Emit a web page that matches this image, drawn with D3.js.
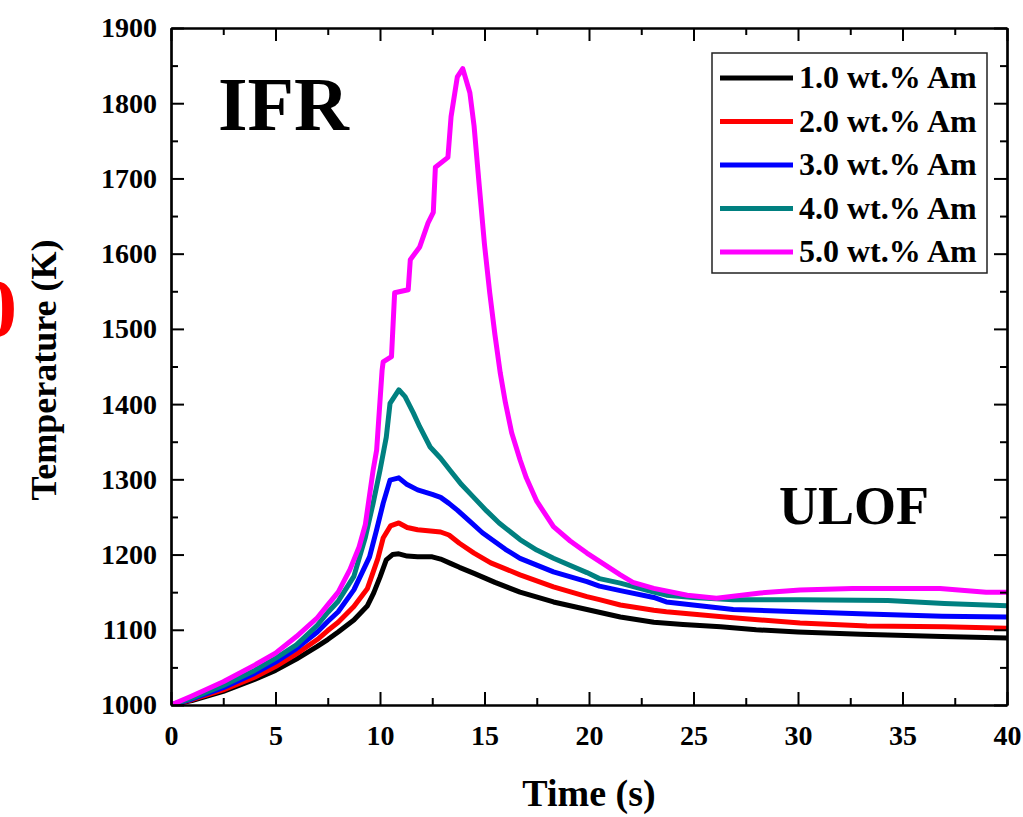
<!DOCTYPE html>
<html>
<head>
<meta charset="utf-8">
<script src="https://cdn.jsdelivr.net/npm/d3@7"></script>
<style>
  html, body { margin: 0; padding: 0; background: #ffffff; overflow: hidden; }
  svg { display: block; }
  text { font-family: "Liberation Serif", "Times New Roman", serif; font-weight: bold; fill: #000; }
</style>
</head>
<body>
<svg id="chart" width="1023" height="817"></svg>
<script>
// ---------------- data ----------------
const seriesNames = ["1.0 wt.% Am", "2.0 wt.% Am", "3.0 wt.% Am", "4.0 wt.% Am", "5.0 wt.% Am"];
const seriesColors = ["#000000", "#ff0000", "#0000ff", "#008080", "#ff00ff"];

const am1 = [[0,1000],[1,1006],[2.5,1018],[4,1034],[5,1046],[6,1061],[7,1078],[7.5,1087],[8,1097],[8.75,1113],[9.4,1132],[9.7,1149],[10,1170],[10.3,1193],[10.6,1200],[10.9,1201],[11.3,1198],[11.8,1197],[12.5,1197],[12.9,1194],[13.4,1188],[13.8,1183],[14.5,1175],[15,1169],[15.5,1163],[16.7,1150],[18.3,1137],[19.9,1127],[21.5,1117],[23.1,1110],[24.5,1107],[26.3,1104],[28,1100],[30,1097],[33,1094],[36.9,1091],[40,1089]];
const am2 = [[0,1000],[1,1007],[2.5,1020],[4,1037],[5,1051],[6,1068],[7,1087],[7.5,1099],[8,1110],[8.75,1131],[9.4,1155],[9.9,1195],[10.15,1222],[10.5,1238],[10.9,1242],[11.3,1236],[11.8,1233],[12.9,1230],[13.3,1226],[13.8,1215],[14.5,1202],[15.3,1189],[16.7,1173],[18.3,1157],[19.9,1144],[20.5,1140],[21.5,1133],[23.1,1126],[23.7,1124],[26.9,1116],[30.1,1109],[33.3,1105],[37,1104],[40,1102]];
const am3 = [[0,1000],[1,1008],[2.5,1023],[4,1042],[5,1057],[6,1075],[7,1097],[7.5,1111],[8,1124],[8.75,1153],[9.5,1197],[9.84,1233],[10.15,1268],[10.48,1299],[10.9,1302],[11.3,1293],[11.8,1286],[12.5,1280],[12.9,1276],[13.3,1268],[13.7,1259],[14.3,1244],[14.9,1229],[16,1207],[16.7,1195],[17.5,1186],[18.3,1177],[19.9,1164],[20.5,1158],[21.5,1152],[23.1,1143],[23.7,1137],[26.9,1127],[30.1,1124],[33.3,1121],[36.9,1118],[40,1117]];
const am4 = [[0,1000],[1,1009],[2.5,1026],[4,1046],[5,1062],[6,1080],[7,1106],[7.5,1123],[8,1138],[8.75,1171],[9.3,1223],[9.67,1268],[10,1312],[10.3,1356],[10.48,1401],[10.9,1419],[11.2,1410],[11.6,1388],[11.9,1370],[12.4,1343],[12.9,1328],[13.35,1312],[13.9,1293],[14.45,1277],[15.1,1258],[15.7,1242],[16.7,1220],[17.5,1206],[18.3,1195],[19.9,1176],[20.5,1168],[21.5,1162],[23.1,1150],[23.7,1146],[25,1143],[26.9,1140],[30.1,1140],[34.3,1139],[37,1135],[40,1132]];
const am5 = [[0,1000],[1,1012],[2.5,1031],[4,1053],[5,1069],[6,1091],[7,1116],[7.5,1133],[8,1150],[8.56,1180],[9,1210],[9.3,1240],[9.67,1312],[9.84,1339],[10.1,1445],[10.15,1456],[10.55,1463],[10.7,1548],[11.35,1552],[11.45,1592],[11.9,1609],[12.3,1641],[12.55,1655],[12.65,1715],[13.25,1728],[13.4,1782],[13.7,1835],[13.96,1846],[14.3,1814],[14.5,1770],[14.75,1690],[15.0,1612],[15.25,1548],[15.5,1492],[15.75,1442],[16.0,1402],[16.3,1362],[16.7,1326],[17.0,1302],[17.5,1271],[18.3,1237],[19.1,1218],[19.9,1202],[21.5,1173],[22.1,1163],[23.1,1155],[24.7,1146],[26.1,1142],[28.2,1149],[30.1,1153],[32.6,1155],[36.8,1155],[39,1150],[40,1150]];
const seriesData = [am1, am2, am3, am4, am5];

const xMajorTicks = [0, 5, 10, 15, 20, 25, 30, 35, 40];
const xMinorTicks = [2.5, 7.5, 12.5, 17.5, 22.5, 27.5, 32.5, 37.5];
const yMajorTicks = [1000, 1100, 1200, 1300, 1400, 1500, 1600, 1700, 1800, 1900];
const yMinorTicks = [1050, 1150, 1250, 1350, 1450, 1550, 1650, 1750, 1850];

// ---------------- layout ----------------
const L = 171, R = 1007, T = 28, B = 705;
const svg = d3.select("#chart");
const x = d3.scaleLinear().domain([0, 40]).range([L, R]);
const y = d3.scaleLinear().domain([1000, 1900]).range([B, T]);

svg.append("clipPath").attr("id", "plotclip")
  .append("rect").attr("x", L).attr("y", T).attr("width", R - L).attr("height", B - T);

const line = d3.line().x(d => x(d[0])).y(d => y(d[1]));
const gLines = svg.append("g").attr("clip-path", "url(#plotclip)");
seriesData.forEach((s, i) => {
  gLines.append("path")
    .attr("d", line(s))
    .attr("fill", "none")
    .attr("stroke", seriesColors[i])
    .attr("stroke-width", 5)
    .attr("stroke-linejoin", "round")
    .attr("stroke-linecap", "round");
});

function styleAxis(g) {
  g.selectAll("path.domain").attr("stroke", "#000").attr("stroke-width", 2.2);
  g.selectAll(".tick line").attr("stroke", "#000").attr("stroke-width", 2);
  g.selectAll(".tick text")
    .style("font-family", '"Liberation Serif", "Times New Roman", serif')
    .style("font-weight", "bold")
    .style("font-size", "28px")
    .attr("fill", "#000");
}
const MAJ = 13, MIN = 7;

svg.append("g").attr("transform", `translate(0,${B})`)
  .call(d3.axisBottom(x).tickValues(xMajorTicks).tickSize(-MAJ).tickSizeOuter(0).tickPadding(20).tickFormat(d3.format("d")))
  .call(styleAxis);
svg.append("g").attr("transform", `translate(0,${B})`)
  .call(d3.axisBottom(x).tickValues(xMinorTicks).tickSize(-MIN).tickSizeOuter(0).tickFormat(""))
  .call(styleAxis);
svg.append("g").attr("transform", `translate(0,${T})`)
  .call(d3.axisTop(x).tickValues(xMajorTicks).tickSize(-MAJ).tickSizeOuter(0).tickFormat(""))
  .call(styleAxis);
svg.append("g").attr("transform", `translate(0,${T})`)
  .call(d3.axisTop(x).tickValues(xMinorTicks).tickSize(-MIN).tickSizeOuter(0).tickFormat(""))
  .call(styleAxis);
svg.append("g").attr("transform", `translate(${L},0)`)
  .call(d3.axisLeft(y).tickValues(yMajorTicks).tickSize(-MAJ).tickSizeOuter(0).tickPadding(14).tickFormat(d3.format("d")))
  .call(styleAxis);
svg.append("g").attr("transform", `translate(${L},0)`)
  .call(d3.axisLeft(y).tickValues(yMinorTicks).tickSize(-MIN).tickSizeOuter(0).tickFormat(""))
  .call(styleAxis);
svg.append("g").attr("transform", `translate(${R},0)`)
  .call(d3.axisRight(y).tickValues(yMajorTicks).tickSize(-MAJ).tickSizeOuter(0).tickFormat(""))
  .call(styleAxis);
svg.append("g").attr("transform", `translate(${R},0)`)
  .call(d3.axisRight(y).tickValues(yMinorTicks).tickSize(-MIN).tickSizeOuter(0).tickFormat(""))
  .call(styleAxis);

// axis titles
svg.append("text").attr("x", (L + R) / 2).attr("y", 806)
  .attr("text-anchor", "middle").style("font-size", "38px").text("Time (s)");
svg.append("text").attr("transform", "translate(56,370) rotate(-90)")
  .attr("text-anchor", "middle").style("font-size", "36px").text("Temperature (K)");

// annotations
svg.append("text").attr("x", 218).attr("y", 130).style("font-size", "76px").text("IFR");
svg.append("text").attr("x", 779).attr("y", 524).style("font-size", "54px").text("ULOF");

// red text cropped at the left edge, as in the reference
svg.append("text").attr("x", 17).attr("y", 336).attr("text-anchor", "end")
  .style("font-size", "82px").style("fill", "#ff0000").text("0");

// legend
const lg = svg.append("g");
lg.append("rect").attr("x", 712).attr("y", 53).attr("width", 275).attr("height", 220)
  .attr("fill", "#fff").attr("stroke", "#222").attr("stroke-width", 1.5);
seriesNames.forEach((name, i) => {
  const ry = 78 + i * 43.5;
  lg.append("line").attr("x1", 720).attr("x2", 793).attr("y1", ry).attr("y2", ry)
    .attr("stroke", seriesColors[i]).attr("stroke-width", 5);
  lg.append("text").attr("x", 799).attr("y", ry + 10).style("font-size", "32px").text(name);
});
</script>
</body>
</html>
